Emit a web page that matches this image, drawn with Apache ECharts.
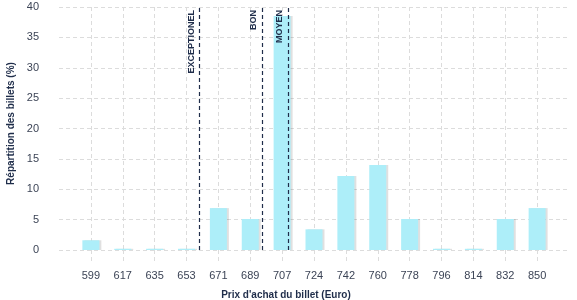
<!DOCTYPE html>
<html>
<head>
<meta charset="utf-8">
<script src="https://cdn.jsdelivr.net/npm/echarts@6/dist/echarts.min.js"></script>
<style>html,body{margin:0;padding:0;background:#fff}#c{width:577px;height:300px}</style>
</head>
<body>
<div id="c"></div>
<script>
// Category labels (price in Euro), padded with an empty slot at each end
const categories = ['599','617','635','653','671','689','707','724','742','760','778','796','814','832','850'];
// Share of tickets (%)
const shares = [1.6, 0.2, 0.2, 0.2, 6.9, 5.1, 38.5, 3.4, 12.2, 14.0, 5.1, 0.2, 0.2, 5.1, 6.9];
// Threshold markers (position measured in category slots, 0 = left edge)
const thresholdNames = ['EXCEPTIONEL', 'BON', 'MOYEN'];
const thresholdPos = [4.41, 6.38, 7.18];
const yTicks = [0, 5, 10, 15, 20, 25, 30, 35, 40];

const axisCats = [''].concat(categories, ['']);
const barData = [null].concat(shares, [null]);
const nSlots = axisCats.length - 1;

const chart = echarts.init(document.getElementById('c'), null, {renderer: 'canvas'});
const font = 'Liberation Sans, Arial, sans-serif';
const dark = '#1f2d4a';
const gridCol = '#dcdcdc';
const notEdge = (i, v) => v !== '';

chart.setOption({
  animation: false,
  backgroundColor: '#fff',
  textStyle: {fontFamily: font},
  grid: {left: 59, right: 8, top: 7, bottom: 50, containLabel: false, outerBoundsMode: 'none'},
  xAxis: [{
    type: 'category',
    data: axisCats,
    boundaryGap: false,
    axisLine: {show: false},
    axisTick: {show: true, interval: notEdge, length: 13, lineStyle: {color: gridCol, type: [4, 3], width: 1}},
    axisLabel: {interval: 0, margin: 20, color: '#3c4456', fontSize: 11, fontFamily: font},
    splitLine: {show: true, interval: notEdge, lineStyle: {color: gridCol, type: [4, 3], width: 1}},
    name: "Prix d'achat du billet (Euro)",
    nameLocation: 'middle',
    nameGap: 40,
    nameTextStyle: {color: dark, fontWeight: 'bold', fontSize: 10, fontFamily: font, padding: [0, 56, 0, 0]}
  }, {
    type: 'value', min: 0, max: nSlots, show: false
  }],
  yAxis: {
    type: 'value',
    min: yTicks[0], max: yTicks[yTicks.length - 1], interval: 5,
    axisLine: {show: false},
    axisTick: {show: false},
    axisLabel: {margin: 20, color: '#3c4456', fontSize: 11, fontFamily: font},
    splitLine: {show: true, lineStyle: {color: gridCol, type: [4, 3], width: 1}},
    name: 'Répartition des billets (%)',
    nameLocation: 'middle',
    nameGap: 42,
    nameTextStyle: {color: dark, fontWeight: 'bold', fontSize: 10, fontFamily: font, padding: [0, 0, 0, 10]}
  },
  series: [{
    type: 'bar',
    data: barData,
    barWidth: 17,
    itemStyle: {color: '#adeef9', shadowColor: 'rgba(0,0,0,0.12)', shadowOffsetX: 2, shadowOffsetY: 0, shadowBlur: 0}
  }, {
    type: 'line',
    xAxisIndex: 1,
    data: [],
    markLine: {
      silent: true,
      symbol: ['none', 'none'],
      lineStyle: {color: dark, type: [4, 3], width: 1.2},
      label: {
        show: true,
        position: 'insideEndTop',
        formatter: p => p.name,
        color: dark,
        fontSize: 9,
        fontWeight: 'bold',
        fontFamily: font,
        distance: [3, 4]
      },
      data: thresholdNames.map((n, i) => ({name: n, xAxis: thresholdPos[i]}))
    }
  }]
});
</script>
</body>
</html>
